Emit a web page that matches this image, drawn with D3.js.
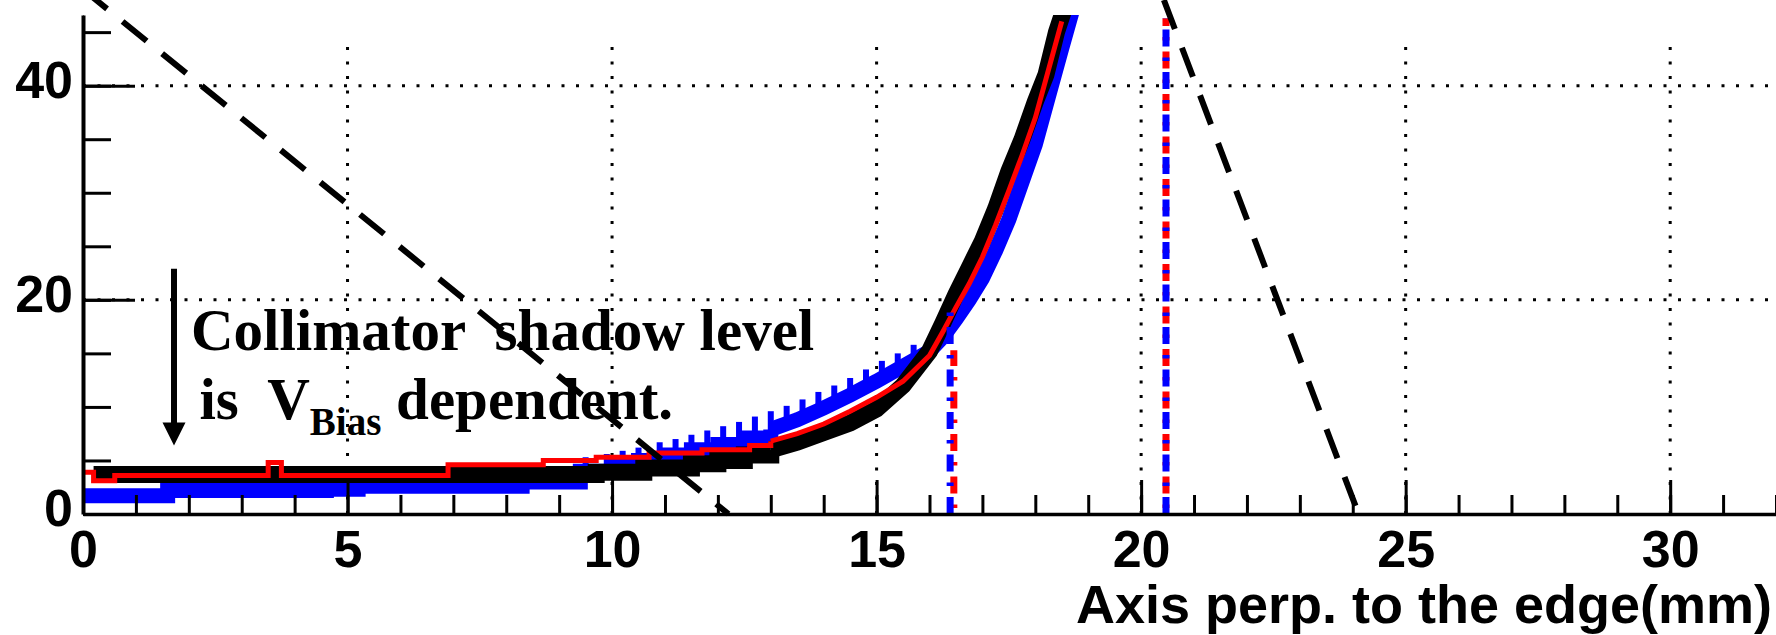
<!DOCTYPE html>
<html>
<head>
  <meta charset="UTF-8">
  <title>Collimator shadow</title>
  <style>
    body { margin: 0; background: #fff; }
    svg { display: block; }
    .tick text { font-family: "Liberation Sans", Arial, sans-serif; font-weight: bold; font-size: 52px; fill: #000; }
  </style>
</head>
<body>
<svg></svg>
<script src="https://d3js.org/d3.v7.min.js"></script>
<script>
    let width = 1776, height = 635;

    // axis setup
    let xMajor = [0, 5, 10, 15, 20, 25, 30];
    let yMajor = [0, 20, 40];

    // black series (position in mm, level)
    let blackX = [0.2, 9.7, 10.6, 11.5, 12.0, 12.5, 13.0, 13.5, 14.0, 14.5, 15.0, 15.5, 16.0, 16.25, 16.5, 16.75, 17.0, 17.25, 17.5, 17.75, 18.0, 18.2, 18.4, 18.6];
    let blackY = [3.7, 3.9, 4.3, 4.7, 5.0, 5.5, 6.0, 6.7, 7.6, 8.5, 9.8, 12.0, 15.2, 17.8, 20.5, 23.0, 25.5, 28.5, 32.0, 35.0, 38.5, 41.0, 45.0, 48.0];

    // red series
    let redX = [0, 0.2, 0.6, 3.5, 3.75, 6.9, 8.7, 9.7, 10.7, 11.7, 12.6, 13.0, 13.5, 14.0, 14.5, 15.0, 15.5, 16.0, 16.25, 16.5, 16.75, 17.0, 17.25, 17.5, 17.75, 18.0, 18.25, 18.5];
    let redY = [3.9, 3.1, 3.6, 4.8, 3.6, 4.6, 5.0, 5.3, 5.7, 6.0, 6.4, 6.8, 7.5, 8.4, 9.6, 10.9, 12.4, 14.8, 17.0, 19.3, 21.5, 24.0, 27.0, 30.2, 33.5, 37.0, 41.5, 46.0];

    // blue series
    let blueX = [0, 1.6, 4.6, 5.2, 8.3, 9.4, 10.0, 10.5, 11.0, 11.5, 12.0, 12.5, 13.0, 13.5, 14.0, 14.5, 15.0, 15.5, 16.0, 16.25, 16.5, 16.75, 17.0, 17.25, 17.5, 17.75, 18.0, 18.25, 18.5, 18.7];
    let blueY = [1.7, 2.2, 2.3, 2.6, 3.0, 4.0, 4.5, 5.0, 5.5, 6.0, 6.5, 7.1, 7.9, 8.8, 9.9, 11.1, 12.4, 13.8, 15.2, 16.5, 18.2, 20.0, 22.0, 24.6, 27.5, 31.0, 34.5, 39.0, 43.5, 47.0];

    // blue spikes on the rising shoulder
    let spikeX = [9.5, 9.9, 10.2, 10.5, 10.9, 11.2, 11.5, 11.8, 12.1, 12.4, 12.7, 13.0, 13.3, 13.6, 13.9, 14.2, 14.5, 14.8, 15.1, 15.4, 15.7];
    let spikeTop = [5.3, 5.6, 5.9, 6.2, 6.7, 7.0, 7.4, 7.8, 8.2, 8.6, 9.1, 9.6, 10.1, 10.7, 11.4, 12.0, 12.7, 13.5, 14.3, 15.0, 15.8];

    // edge cuts (dash-dot verticals)
    let cutBlueX = [16.39, 20.47], cutBlueTop = [19.3, 46.3];
    let cutRedX = [16.46, 20.47], cutRedTop = [15.3, 46.3];

    // dashed guide lines
    let guideAX = [0, 12.2], guideAY = [49, 0];
    let guideBX = [20.43, 24.11], guideBY = [48, 0];

    let svg = d3.select("svg")
        .attr("width", width)
        .attr("height", height);

    let x = d3.scaleLinear().domain([0, 32]).range([83, 1776]);
    let y = d3.scaleLinear().domain([0, 46.6]).range([514, 15]);

    svg.append("defs").append("clipPath").attr("id", "frame")
        .append("rect")
        .attr("x", x(0)).attr("y", y(46.6))
        .attr("width", x(32) - x(0)).attr("height", y(0) - y(46.6));

    // dotted grid
    let grid = svg.append("g").attr("stroke", "#000").attr("stroke-width", 3).attr("stroke-dasharray", "3,11.5");
    grid.selectAll("line.gx")
        .data(xMajor.filter(d => d > 0))
        .enter().append("line")
        .attr("x1", d => x(d)).attr("x2", d => x(d))
        .attr("y1", y(0)).attr("y2", y(44.6));
    grid.selectAll("line.gy")
        .data(yMajor.filter(d => d > 0))
        .enter().append("line")
        .attr("x1", x(0)).attr("x2", x(32))
        .attr("y1", d => y(d)).attr("y2", d => y(d));

    // curves: stepped on the plateau, straight on the rising edge
    let plot = svg.append("g").attr("clip-path", "url(#frame)");
    let stepLine = d3.line().x(d => x(d[0])).y(d => y(d[1])).curve(d3.curveStepAfter);
    let riseLine = d3.line().x(d => x(d[0])).y(d => y(d[1]));
    let split = 13;

    function series(xs, ys, color, w) {
        let pts = d3.zip(xs, ys);
        let low = pts.filter(p => p[0] <= split);
        let high = pts.filter(p => p[0] >= split);
        [[low, stepLine], [high, riseLine]].forEach(s => {
            plot.append("path")
                .datum(s[0])
                .attr("d", s[1])
                .attr("fill", "none")
                .attr("stroke", color)
                .attr("stroke-width", w);
        });
    }

    plot.selectAll("line.spike")
        .data(d3.zip(spikeX, spikeTop))
        .enter().append("line")
        .attr("x1", d => x(d[0])).attr("x2", d => x(d[0]))
        .attr("y1", d => y(d[1])).attr("y2", d => y(d[1]) + 22)
        .attr("stroke", "#0000ff").attr("stroke-width", 6);
    series(blueX, blueY, "#0000ff", 15);
    series(blackX, blackY, "#000000", 17);
    series(redX, redY, "#ff0000", 5);

    // dash-dot verticals
    let cuts = svg.append("g");
    cuts.selectAll("line.red")
        .data(d3.zip(cutRedX, cutRedTop))
        .enter().append("line")
        .attr("x1", d => x(d[0])).attr("x2", d => x(d[0]))
        .attr("y1", y(0)).attr("y2", d => y(d[1]))
        .attr("stroke", "#ff0000").attr("stroke-width", 7)
        .attr("stroke-dasharray", "17,11,3.5,11").attr("stroke-dashoffset", 22);
    cuts.selectAll("line.blue")
        .data(d3.zip(cutBlueX, cutBlueTop))
        .enter().append("line")
        .attr("x1", d => x(d[0])).attr("x2", d => x(d[0]))
        .attr("y1", y(0)).attr("y2", d => y(d[1]))
        .attr("stroke", "#0000ff").attr("stroke-width", 7)
        .attr("stroke-dasharray", "17,11,3.5,11");

    // dashed guides
    [[guideAX, guideAY], [guideBX, guideBY]].forEach(g => {
        svg.append("line")
            .attr("x1", x(g[0][0])).attr("y1", y(g[1][0]))
            .attr("x2", x(g[0][1])).attr("y2", y(g[1][1]))
            .attr("stroke", "#000").attr("stroke-width", 6)
            .attr("stroke-dasharray", "31,20");
    });

    // axes
    let xAxis = svg.append("g").attr("transform", "translate(0," + y(0) + ")");
    xAxis.call(d3.axisBottom(x).tickValues(d3.range(0, 33, 1)).tickSizeInner(-19).tickSizeOuter(0).tickFormat(""));
    xAxis.call(g => g.selectAll(".tick line").attr("stroke-width", 3));
    let xAxisMaj = svg.append("g").attr("transform", "translate(0," + y(0) + ")");
    xAxisMaj.call(d3.axisBottom(x).tickValues(xMajor).tickSizeInner(-34).tickSizeOuter(0).tickPadding(16));
    xAxisMaj.call(g => g.selectAll(".tick line").attr("stroke-width", 3));
    xAxisMaj.select(".domain").attr("stroke-width", 3.5);

    let yAxis = svg.append("g").attr("transform", "translate(" + x(0) + ",0)");
    yAxis.call(d3.axisLeft(y).tickValues(d3.range(0, 46, 5)).tickSizeInner(-28).tickSizeOuter(0).tickFormat(""));
    yAxis.call(g => g.selectAll(".tick line").attr("stroke-width", 3));
    let yAxisMaj = svg.append("g").attr("transform", "translate(" + x(0) + ",0)");
    yAxisMaj.call(d3.axisLeft(y).tickValues(yMajor).tickSizeInner(-52).tickSizeOuter(0).tickPadding(10));
    yAxisMaj.call(g => g.selectAll(".tick line").attr("stroke-width", 3));
    yAxisMaj.selectAll(".tick text").attr("dy", "0.23em");
    yAxisMaj.select(".domain").attr("stroke-width", 4);

    svg.append("text")
        .attr("x", 1772).attr("y", 623)
        .attr("text-anchor", "end")
        .style("font-family", "'Liberation Sans', Arial, sans-serif")
        .style("font-weight", "bold")
        .style("font-size", "54px")
        .text("Axis perp. to the edge(mm)");

    // annotation
    let note = svg.append("g")
        .style("font-family", "'Liberation Serif', 'Times New Roman', serif")
        .style("font-weight", "bold")
        .style("font-size", "59px");
    note.append("text")
        .attr("x", x(2.04)).attr("y", y(15.3))
        .attr("xml:space", "preserve")
        .text("Collimator  shadow level");
    let t2 = note.append("text")
        .attr("x", x(2.2)).attr("y", y(8.9))
        .attr("xml:space", "preserve");
    t2.append("tspan").text("is  V");
    t2.append("tspan").attr("dy", 16).style("font-size", "39px").text("Bias");
    t2.append("tspan").attr("dy", -16).text(" dependent.");

    let ax = x(1.72), aTop = y(22.9), aTip = y(6.4);
    svg.append("line")
        .attr("x1", ax).attr("x2", ax)
        .attr("y1", aTop).attr("y2", aTip - 20)
        .attr("stroke", "#000").attr("stroke-width", 6);
    svg.append("path")
        .attr("d", "M" + (ax - 11.5) + "," + (aTip - 23) + "L" + (ax + 11.5) + "," + (aTip - 23) + "L" + ax + "," + aTip + "Z")
        .attr("fill", "#000");
</script>
</body>
</html>
